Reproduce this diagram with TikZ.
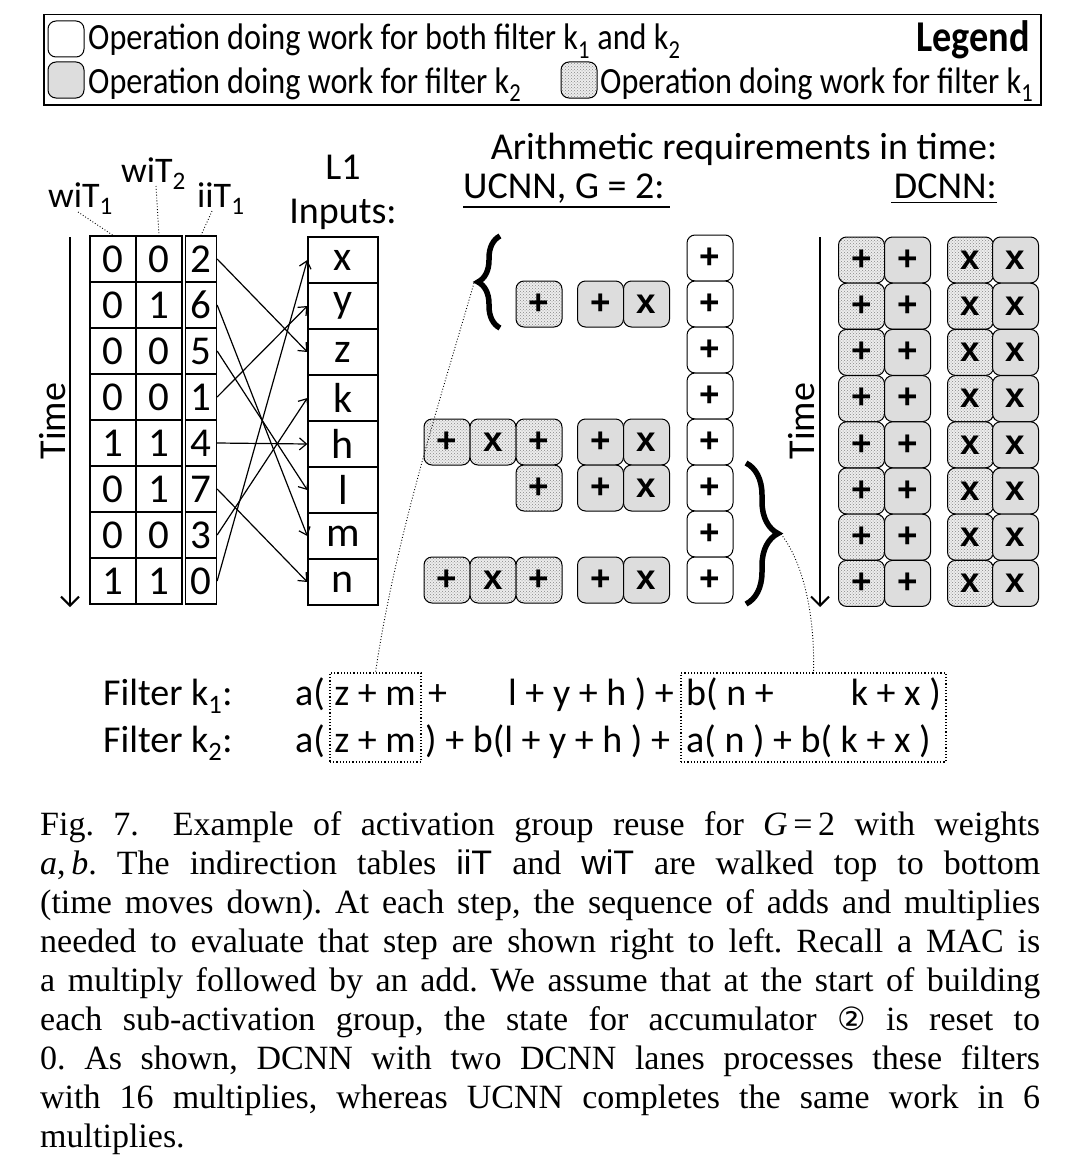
\documentclass[tikz,border=0pt]{standalone}
\usepackage{fontspec}
\usepackage{graphicx}
\setmainfont{Carlito}
\newfontfamily\legfont[FakeStretch=0.87]{Carlito}
\newfontfamily\capfont{Liberation Serif}
\newfontfamily\opfont{Liberation Sans}
\newfontfamily\symfont{DejaVu Sans}
\usetikzlibrary{arrows.meta,patterns,decorations.pathreplacing}
\newcommand\fsz[1]{\fontsize{#1}{#1}\selectfont}
\newcommand\capline[1]{\makebox[1000pt][s]{#1}}
\tikzset{
  txt/.style={inner sep=0pt, anchor=base west},
  cell/.style={draw, line width=1.3pt, minimum width=46pt, minimum height=46pt, inner sep=0pt, font=\fsz{41}},
  icell/.style={cell, minimum width=31pt},
  incell/.style={cell, minimum width=70pt, font=\fsz{42}},
  op/.style={draw, line width=1pt, rounded corners=8pt, minimum width=46pt, minimum height=46pt, inner sep=0pt, font=\opfont\bfseries\fsz{35}},
  opw/.style={op, fill=white},
  opg/.style={op, fill=gray!27},
  opd/.style={op, preaction={fill=gray!14}, pattern=crosshatch dots, pattern color=gray!95},
  conn/.style={line width=1.2pt, -{Straight Barb[length=7pt,width=12pt]}},
  timearrow/.style={line width=2pt, -{Straight Barb[length=9pt,width=18pt]}},
  leader/.style={dotted, line width=0.9pt},
  bracestyle/.style={line width=5.5pt, decorate},
  dbox/.style={draw, dotted, line width=1.2pt, inner sep=0pt},
}
\begin{document}
\begin{tikzpicture}[x=1pt,y=-1pt]
\useasboundingbox (0,0) rectangle (1080,1172);
\fill[white] (0,0) rectangle (1080,1172);

% ---------------- Legend
\node[draw, line width=1.5pt, minimum width=997pt, minimum height=90pt, inner sep=0pt, anchor=north west] (legendbox) at (43,14) {};
\node[opw, minimum width=36pt, minimum height=36pt] (lgw) at (66,39) {};
\node[txt, font=\legfont\fsz{37}] (lgwt) at (88,50) {Operation doing work for both filter k\textsubscript{1} and k\textsubscript{2}};
\node[inner sep=0pt, anchor=base east, font=\legfont\bfseries\fsz{44}] (lgtitle) at (1030,52) {Legend};
\node[opg, minimum width=36pt, minimum height=36pt] (lgg) at (66,80) {};
\node[txt, font=\legfont\fsz{37}] (lggt) at (88,93) {Operation doing work for filter k\textsubscript{2}};
\node[opd, minimum width=36pt, minimum height=36pt] (lgd) at (579,80) {};
\node[txt, font=\legfont\fsz{37}] (lgdt) at (600,93) {Operation doing work for filter k\textsubscript{1}};

% ---------------- Tables
\foreach \v [count=\i from 0] in {0,0,0,0,1,0,0,1}
  \node[cell] (wa\i) at (113,{259+46*\i}) {\v};
\foreach \v [count=\i from 0] in {0,1,0,0,1,1,0,1}
  \node[cell] (wb\i) at (159,{259+46*\i}) {\v};
\foreach \v [count=\i from 0] in {2,6,5,1,4,7,3,0}
  \node[icell] (ii\i) at (201,{259+46*\i}) {\v};
\foreach \v [count=\i from 0] in {x,y,z,k,h,l,m,n}
  \node[incell] (in\i) at (343,{260+46*\i}) {\v};

\node[txt, font=\fsz{36}] (lwa) at (48,207) {wiT\textsubscript{1}};
\node[txt, font=\fsz{36}] (lwb) at (121,182) {wiT\textsubscript{2}};
\node[txt, font=\fsz{36}] (lii) at (197,207) {iiT\textsubscript{1}};
\coordinate (lwaend) at (78,212);
\coordinate (lwbend) at (156,186);
\coordinate (liiend) at (212,211);
\draw[leader] (lwaend) -- (wa0.north);
\draw[leader] (lwbend) -- (wb0.north);
\draw[leader] (liiend) -- (ii0.north);

\node[inner sep=0pt, anchor=base, font=\fsz{38}] (lone) at (343,179) {L1};
\node[inner sep=0pt, anchor=base, font=\fsz{38}] (linputs) at (343,223) {Inputs:};

\foreach \s/\t in {0/2,1/6,2/5,3/1,4/4,5/7,6/3,7/0}
  \draw[conn] (ii\s.east) -- (in\t.west);

\coordinate (tla) at (70,237);
\coordinate (tlb) at (70,607);
\draw[timearrow] (tla) -- (tlb);
\node[rotate=90, inner sep=0pt, font=\fsz{38}] (timel) at (53,421) {Time};

% ---------------- Headers
\node[inner sep=0pt, anchor=base, font=\fsz{38}] (arith) at (744,159) {Arithmetic requirements in time:};
\node[txt, font=\fsz{38}] (ucnn) at (463,198) {UCNN, G = 2:};
\node[inner sep=0pt, anchor=base east, font=\fsz{38}] (dcnn) at (997,198) {DCNN:};
\draw[line width=1.8pt] (ucnn.south west) ++(0,4) -- ++(207,0);
\draw[line width=1.8pt] (dcnn.south east) ++(0,4) -- ++(-106,0);

% ---------------- UCNN
\foreach \i in {0,...,7}
  \node[opw] (uw\i) at (710,{258+46*\i}) {+};
\node[opd] (ua1) at (539,304) {+};
\node[opg] (ub1) at (600.5,304) {+};
\node[opg] (uc1) at (646.5,304) {x};
\node[opd] (ud4) at (447,442) {+};
\node[opd] (ue4) at (493,442) {x};
\node[opd] (ua4) at (539,442) {+};
\node[opg] (ub4) at (600.5,442) {+};
\node[opg] (uc4) at (646.5,442) {x};
\node[opd] (ua5) at (539,488) {+};
\node[opg] (ub5) at (600.5,488) {+};
\node[opg] (uc5) at (646.5,488) {x};
\node[opd] (ud7) at (447,580) {+};
\node[opd] (ue7) at (493,580) {x};
\node[opd] (ua7) at (539,580) {+};
\node[opg] (ub7) at (600.5,580) {+};
\node[opg] (uc7) at (646.5,580) {x};

\draw[bracestyle, decoration={brace, amplitude=22pt}] (500,328) -- (500,236);
\draw[bracestyle, decoration={brace, amplitude=32pt}] (746,463) -- (746,604);

% ---------------- DCNN
\coordinate (tra) at (820,237);
\coordinate (trb) at (820,607);
\draw[timearrow] (tra) -- (trb);
\node[rotate=90, inner sep=0pt, font=\fsz{38}] (timer) at (802,421) {Time};
\foreach \i in {0,...,7} {
  \node[opd] (da\i) at (861.5,{260+46.2*\i}) {+};
  \node[opg] (db\i) at (907.5,{260+46.2*\i}) {+};
  \node[opd] (dc\i) at (970.5,{260+46.2*\i}) {x};
  \node[opg] (dd\i) at (1015.5,{260+46.2*\i}) {x};
}

% ---------------- Filters
\node[dbox, minimum width=91pt, minimum height=89pt] (zmbox) at (375.5,717.5) {};
\node[dbox, minimum width=265pt, minimum height=89pt] (nxbox) at (813.5,717.5) {};
\node[txt, font=\fsz{38}] (fk1) at (103,705) {Filter k\textsubscript{1}:};
\node[txt, font=\fsz{38}] (fk2) at (103,752) {Filter k\textsubscript{2}:};
\node[txt, font=\fsz{38}] (r1a) at (295,705) {a(};
\node[inner sep=0pt, anchor=base, font=\fsz{38}] (r1b) at (375,705) {z + m};
\node[txt, font=\fsz{38}] (r1c) at (428,705) {+};
\node[txt, font=\fsz{38}] (r1d) at (508,705) {l + y + h ) +};
\node[txt, font=\fsz{38}] (r1e) at (686,705) {b( n +};
\node[inner sep=0pt, anchor=base east, font=\fsz{38}] (r1f) at (941,705) {k + x )};
\node[txt, font=\fsz{38}] (r2a) at (295,752) {a(};
\node[inner sep=0pt, anchor=base, font=\fsz{38}] (r2b) at (375,752) {z + m};
\node[txt, font=\fsz{38}] (r2c) at (425,752) {) + b(l + y + h ) +};
\node[txt, font=\fsz{38}] (r2d) at (686,752) {a( n ) + b( k + x )};

\coordinate (lbtip) at (474,283);
\coordinate (rbtip) at (781,534);
\draw[leader] (lbtip) .. controls (440,400) and (395,540) .. (zmbox.north);
\draw[leader] (rbtip) .. controls (805,565) and (815,620) .. (nxbox.north);

% ---------------- Caption
\begin{scope}[every node/.style={inner sep=0pt, anchor=base west, font=\capfont\fsz{34}\frenchspacing}]
\node (c1) at (40,835) {\capline{Fig. 7.\hspace{1em}Example of activation group reuse for \textit{G}\,=\,2 with weights}};
\node (c2) at (40,874) {\capline{\textit{a},\,\textit{b}. The indirection tables {\opfont iiT} and {\opfont wiT} are walked top to bottom}};
\node (c3) at (40,913) {\capline{(time moves down). At each step, the sequence of adds and multiplies}};
\node (c4) at (40,952) {\capline{needed to evaluate that step are shown right to left. Recall a MAC is}};
\node (c5) at (40,991) {\capline{a multiply followed by an add. We assume that at the start of building}};
\node (c6) at (40,1030) {\capline{each sub-activation group, the state for accumulator {\symfont\fsz{32}②} is reset to}};
\node (c7) at (40,1069) {\capline{0. As shown, DCNN with two DCNN lanes processes these filters}};
\node (c8) at (40,1108) {\capline{with 16 multiplies, whereas UCNN completes the same work in 6}};
\node (c9) at (40,1147) {multiplies.};
\end{scope}
\end{tikzpicture}
\end{document}
